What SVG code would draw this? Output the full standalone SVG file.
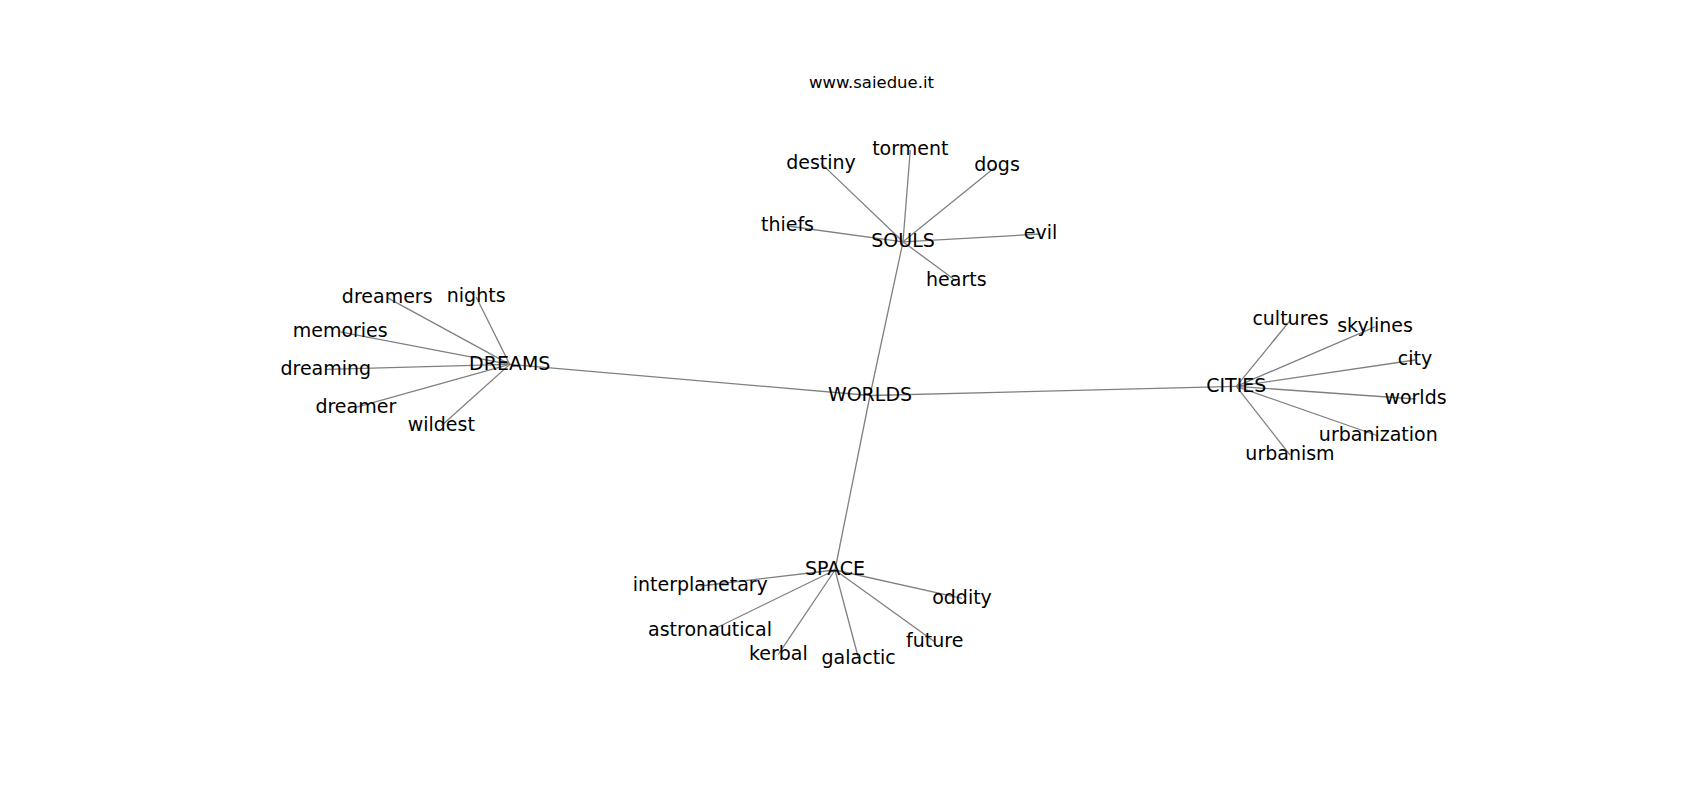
<svg xmlns="http://www.w3.org/2000/svg" width="1700" height="800" viewBox="0 0 1700 800">
<style>
.e{stroke:#808080;stroke-width:1.3;fill:none}
.n{font-family:"DejaVu Sans","Liberation Sans",sans-serif;font-size:19px;fill:#000;text-anchor:middle}
.t{font-family:"DejaVu Sans","Liberation Sans",sans-serif;font-size:16.5px;fill:#000;text-anchor:middle}
</style>
<rect width="1700" height="800" fill="#fff"/>
<text class="t" x="871.5" y="88.3">www.saiedue.it</text>
<g id="edges">
<line class="e" x1="870" y1="395.5" x2="903" y2="241.8"/>
<line class="e" x1="870" y1="395.5" x2="509.7" y2="364.4"/>
<line class="e" x1="870" y1="395.5" x2="1236.3" y2="386.4"/>
<line class="e" x1="870" y1="395.5" x2="835" y2="570"/>
<line class="e" x1="903" y1="241.8" x2="821" y2="163.4"/>
<line class="e" x1="903" y1="241.8" x2="910.3" y2="150"/>
<line class="e" x1="903" y1="241.8" x2="997" y2="165.8"/>
<line class="e" x1="903" y1="241.8" x2="787.5" y2="226"/>
<line class="e" x1="903" y1="241.8" x2="1040.5" y2="234"/>
<line class="e" x1="903" y1="241.8" x2="956.3" y2="281"/>
<line class="e" x1="509.7" y1="364.4" x2="387.2" y2="297.6"/>
<line class="e" x1="509.7" y1="364.4" x2="476.2" y2="297"/>
<line class="e" x1="509.7" y1="364.4" x2="340.2" y2="331.8"/>
<line class="e" x1="509.7" y1="364.4" x2="325.8" y2="369.4"/>
<line class="e" x1="509.7" y1="364.4" x2="355.8" y2="407.4"/>
<line class="e" x1="509.7" y1="364.4" x2="441.3" y2="425.8"/>
<line class="e" x1="1236.3" y1="386.4" x2="1290.5" y2="320"/>
<line class="e" x1="1236.3" y1="386.4" x2="1375" y2="326.8"/>
<line class="e" x1="1236.3" y1="386.4" x2="1415" y2="360"/>
<line class="e" x1="1236.3" y1="386.4" x2="1415.5" y2="399"/>
<line class="e" x1="1236.3" y1="386.4" x2="1378.3" y2="436"/>
<line class="e" x1="1236.3" y1="386.4" x2="1290" y2="455"/>
<line class="e" x1="835" y1="570" x2="700.3" y2="586"/>
<line class="e" x1="835" y1="570" x2="962" y2="598.4"/>
<line class="e" x1="835" y1="570" x2="710" y2="631"/>
<line class="e" x1="835" y1="570" x2="778.3" y2="654.4"/>
<line class="e" x1="835" y1="570" x2="858.7" y2="659"/>
<line class="e" x1="835" y1="570" x2="934.7" y2="641.8"/>
</g>
<g id="node-worlds"><text class="n" x="870" y="400.6">WORLDS</text></g>
<g id="node-souls"><text class="n" x="903" y="246.9">SOULS</text></g>
<g id="node-dreams"><text class="n" x="509.7" y="369.5">DREAMS</text></g>
<g id="node-cities"><text class="n" x="1236.3" y="391.5">CITIES</text></g>
<g id="node-space"><text class="n" x="835" y="575.1">SPACE</text></g>
<g id="node-destiny"><text class="n" x="821" y="168.5">destiny</text></g>
<g id="node-torment"><text class="n" x="910.3" y="155.1">torment</text></g>
<g id="node-dogs"><text class="n" x="997" y="170.9">dogs</text></g>
<g id="node-thiefs"><text class="n" x="787.5" y="231.1">thiefs</text></g>
<g id="node-evil"><text class="n" x="1040.5" y="239.1">evil</text></g>
<g id="node-hearts"><text class="n" x="956.3" y="286.1">hearts</text></g>
<g id="node-dreamers"><text class="n" x="387.2" y="302.7">dreamers</text></g>
<g id="node-nights"><text class="n" x="476.2" y="302.1">nights</text></g>
<g id="node-memories"><text class="n" x="340.2" y="336.9">memories</text></g>
<g id="node-dreaming"><text class="n" x="325.8" y="374.5">dreaming</text></g>
<g id="node-dreamer"><text class="n" x="355.8" y="412.5">dreamer</text></g>
<g id="node-wildest"><text class="n" x="441.3" y="430.9">wildest</text></g>
<g id="node-cultures"><text class="n" x="1290.5" y="325.1">cultures</text></g>
<g id="node-skylines"><text class="n" x="1375" y="331.9">skylines</text></g>
<g id="node-city"><text class="n" x="1415" y="365.1">city</text></g>
<g id="node-worlds2"><text class="n" x="1415.5" y="404.1">worlds</text></g>
<g id="node-urbanization"><text class="n" x="1378.3" y="441.1">urbanization</text></g>
<g id="node-urbanism"><text class="n" x="1290" y="460.1">urbanism</text></g>
<g id="node-interplanetary"><text class="n" x="700.3" y="591.1">interplanetary</text></g>
<g id="node-oddity"><text class="n" x="962" y="603.5">oddity</text></g>
<g id="node-astronautical"><text class="n" x="710" y="636.1">astronautical</text></g>
<g id="node-kerbal"><text class="n" x="778.3" y="659.5">kerbal</text></g>
<g id="node-galactic"><text class="n" x="858.7" y="664.1">galactic</text></g>
<g id="node-future"><text class="n" x="934.7" y="646.9">future</text></g>
</svg>
